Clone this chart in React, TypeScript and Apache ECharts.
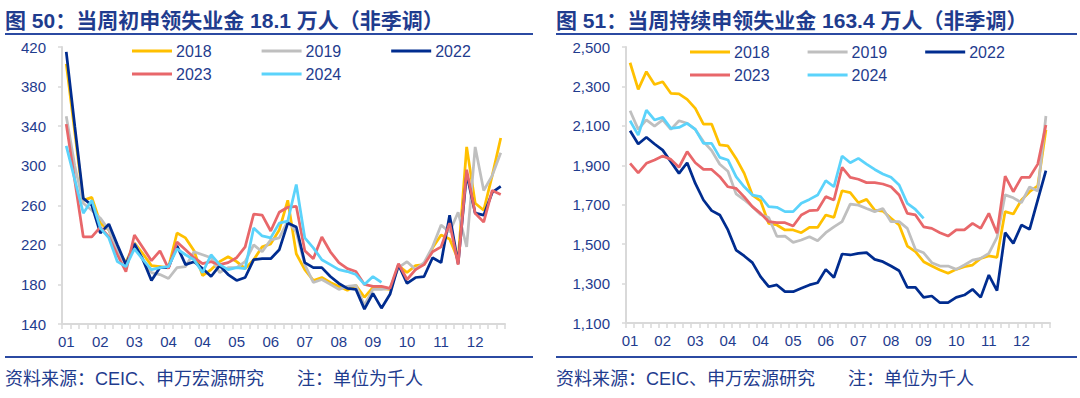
import React, { useEffect, useRef } from "react";
import * as echarts from "echarts";

const weeks = [
  "01","01","01","01","02","02","02","02","03","03","03","03",
  "04","04","04","04","04","04","05","05","05","05","06","06",
  "06","06","07","07","07","07","08","08","08","08","08","09",
  "09","09","09","10","10","10","10","11","11","11","11","12",
  "12","12","12","12",
];

const years = ["2018", "2019", "2022", "2023", "2024"];
const colors = ["#FFC000", "#BFBFBF", "#002C8F", "#E8676A", "#5BD3FB"];

// 当周初申领失业金（千人）
const ic2018 = [403,334,265,268,242,235,214,202,222,211,199,198,197,232,227,214,189,195,203,208,203,196,205,218,221,235,265,211,195,184,187,182,178,174,179,167,177,176,175,199,192,199,200,217,230,226,205,319,262,255,290,328];
const ic2019 = [350,300,262,255,247,235,214,200,222,205,192,190,186,197,198,213,210,207,192,197,197,203,220,213,225,227,244,233,200,182,185,180,175,178,179,159,175,175,176,197,203,195,202,218,240,233,253,218,319,275,290,313];
const ic2022 = [415,340,267,260,232,241,220,200,221,205,184,197,197,219,200,203,196,188,199,190,184,187,205,206,206,215,242,238,202,197,197,188,181,176,175,155,171,156,170,200,181,187,188,207,202,250,201,292,252,250,273,279];
const ic2023 = [342,285,228,228,238,228,210,193,230,217,204,214,196,223,215,207,201,203,200,202,207,218,251,250,234,253,258,259,214,206,228,213,202,196,193,180,178,178,176,201,185,195,200,213,218,242,200,296,252,243,275,271];
const ic2024 = [320,286,252,265,237,227,203,198,216,205,195,197,198,216,210,205,192,210,200,195,197,196,237,229,227,242,244,281,227,217,205,200,195,193,190,180,188,182,null,null,null,null,null,null,null,null,null,null,null,null,null,null];

// 当周持续申领失业金（千人）
const cc2018 = [2420,2285,2375,2310,2324,2265,2262,2234,2189,2109,2109,2003,1998,1935,1859,1749,1720,1605,1597,1572,1572,1558,1585,1585,1648,1636,1771,1761,1710,1727,1673,1668,1631,1597,1490,1462,1411,1389,1369,1352,1372,1386,1394,1428,1440,1433,1665,1653,1724,1766,1795,2080];
const cc2019 = [2177,2082,2130,2099,2130,2082,2126,2113,2082,2020,1975,1905,1870,1755,1725,1690,1650,1635,1540,1541,1509,1521,1538,1517,1558,1588,1614,1703,1698,1681,1665,1681,1614,1614,1580,1473,1456,1406,1389,1389,1372,1394,1419,1428,1453,1534,1750,1735,1710,1790,1770,2150];
const cc2022 = [2075,2008,2042,2008,1977,1918,1859,1913,1808,1724,1670,1648,1572,1470,1440,1406,1335,1284,1293,1259,1259,1276,1293,1304,1372,1331,1450,1445,1453,1457,1423,1411,1389,1365,1281,1281,1230,1237,1203,1203,1230,1242,1271,1230,1343,1264,1558,1504,1597,1575,1724,1873];
const cc2023 = [1910,1862,1910,1927,1947,1930,1890,1969,1913,1879,1879,1842,1791,1783,1740,1690,1656,1614,1609,1609,1592,1648,1670,1673,1741,1724,1889,1839,1829,1812,1812,1805,1791,1749,1656,1648,1588,1580,1558,1541,1572,1572,1605,1580,1656,1555,1845,1766,1839,1839,1906,2104];
const cc2024 = [2126,2053,2180,2130,2143,2087,2092,2113,2082,2011,2011,1940,1927,1842,1791,1749,1741,1690,1687,1665,1665,1707,1727,1749,1822,1791,1947,1913,1935,1906,1879,1856,1839,1800,1707,1676,1631,null,null,null,null,null,null,null,null,null,null,null,null,null,null,null];

const leftTicks = [140, 420, 40];
const rightTicks = [1100, 2500, 200];

const title1 = "图 50：当周初申领失业金 18.1 万人（非季调）";
const title2 = "图 51：当周持续申领失业金 163.4 万人（非季调）";
const footnote = "资料来源：CEIC、申万宏源研究";
const note = "注：单位为千人";

const TXT = "#1F3C8E";
const RULE = "#2B4AA2";
const AXIS = "#D9D9D9";
const FONT = '"Liberation Sans", Arial, "Noto Sans CJK SC", sans-serif';

export default function App() {
  const ref = useRef<HTMLDivElement>(null);
  useEffect(() => {
    if (!ref.current) return;
    const chart = echarts.init(ref.current, null, { renderer: "svg" });
    const leftData = [ic2018, ic2019, ic2022, ic2023, ic2024];
    const rightData = [cc2018, cc2019, cc2022, cc2023, cc2024];

    const xAxisBase = (gi: number) => ({
      type: "category",
      gridIndex: gi,
      data: weeks,
      boundaryGap: true,
      axisLine: { show: true, lineStyle: { color: AXIS, width: 2 } },
      axisTick: { show: true, interval: 0, length: 5, lineStyle: { color: AXIS, width: 1.5 } },
      axisLabel: { interval: 3, color: TXT, fontSize: 15, fontFamily: FONT, margin: 10 },
      splitLine: { show: false },
    });
    const yAxisBase = (gi: number, t: number[], comma: boolean) => ({
      type: "value",
      gridIndex: gi,
      min: t[0],
      max: t[1],
      interval: t[2],
      axisLine: { show: true, lineStyle: { color: AXIS, width: 2 } },
      axisTick: { show: true, length: 4, lineStyle: { color: AXIS, width: 1.5 } },
      axisLabel: {
        color: TXT,
        fontSize: 15,
        fontFamily: FONT,
        margin: 16,
        formatter: comma ? (v: number) => v.toLocaleString("en-US") : undefined,
      },
      splitLine: { show: false },
    });

    const series: any[] = [];
    years.forEach((y, k) => {
      series.push({
        name: y, type: "line", xAxisIndex: 0, yAxisIndex: 0, data: leftData[k],
        symbol: "none", lineStyle: { color: colors[k], width: 2.75 }, itemStyle: { color: colors[k] },
      });
    });
    years.forEach((y, k) => {
      series.push({
        name: y, type: "line", xAxisIndex: 1, yAxisIndex: 1, data: rightData[k],
        symbol: "none", lineStyle: { color: colors[k], width: 2.75 }, itemStyle: { color: colors[k] },
      });
    });

    const legend = (data: string[], left: number, top: number, gap: number) => ({
      data, left, top, itemWidth: 40, itemHeight: 3, icon: "rect", itemGap: gap,
      selectedMode: false, padding: 0,
      textStyle: { color: TXT, fontSize: 16, fontFamily: FONT, padding: [0, 0, 0, -1] },
    });

    const text = (x: number, y: number, t: string, font: string) => ({
      type: "text", x, y,
      style: { text: t, font, fill: TXT, verticalAlign: "middle", textVerticalAlign: "middle" },
    });
    const rule = (x: number, y: number, w: number) => ({
      type: "rect", shape: { x, y, width: w, height: 2 }, style: { fill: RULE },
    });

    chart.setOption({
      animation: false,
      grid: [
        { left: 62, top: 47, width: 443, height: 277 },
        { left: 626, top: 47, width: 424, height: 276 },
      ],
      xAxis: [xAxisBase(0), xAxisBase(1)],
      yAxis: [yAxisBase(0, leftTicks, false), yAxisBase(1, rightTicks, true)],
      legend: [
        legend(["2018", "2019", "2022"], 132, 43, 50),
        legend(["2023", "2024"], 132, 66, 50),
        legend(["2018", "2019", "2022"], 690, 44, 38),
        legend(["2023", "2024"], 690, 67, 38),
      ],
      series,
      graphic: [
        text(5, 20, title1, `bold 21px ${FONT}`),
        text(556, 20, title2, `bold 21px ${FONT}`),
        rule(5, 33, 528),
        rule(556, 33, 521),
        rule(5, 356, 528),
        rule(556, 356, 521),
        text(5, 379, footnote, `18px ${FONT}`),
        text(297, 379, note, `18px ${FONT}`),
        text(556, 379, footnote, `18px ${FONT}`),
        text(848, 379, note, `18px ${FONT}`),
      ],
    });
    return () => chart.dispose();
  }, []);
  return (
    <div
      ref={ref}
      style={{ position: "fixed", left: 0, top: 0, width: 1080, height: 398, background: "#fff" }}
    />
  );
}
